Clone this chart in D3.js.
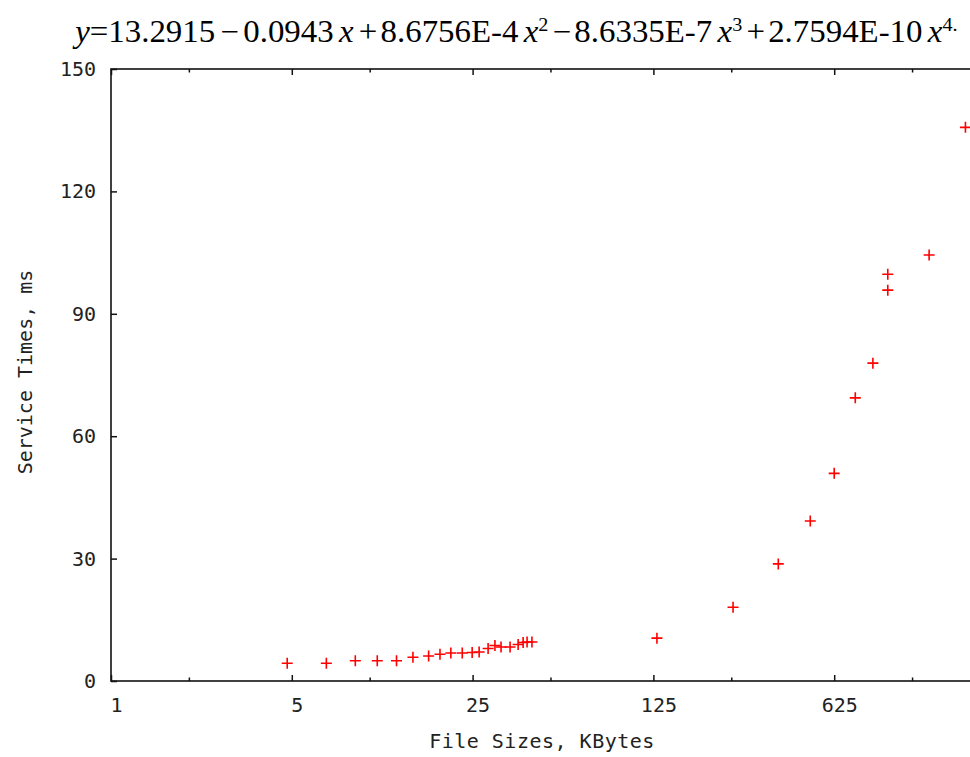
<!DOCTYPE html>
<html><head><meta charset="utf-8">
<script src="https://cdn.jsdelivr.net/npm/d3@7"></script>
<style>body{margin:0;background:#fff;overflow:hidden}</style>
</head><body><svg id="c" width="970" height="757"></svg>
<script>
// File sizes (KBytes) and measured service times (ms)
const fileSizes = [4.8, 6.8, 8.8, 10.7, 12.7, 14.7, 16.9, 18.7, 20.6, 22.8, 24.9, 26.5, 28.7, 30.5, 32.2, 34.9, 37.5, 39.2, 40.6, 42.4, 129, 254, 380, 505, 625, 754, 882, 1007, 1007, 1455, 2010];
const serviceTimes = [4.34, 4.34, 4.98, 4.98, 4.98, 5.81, 6.13, 6.54, 6.86, 6.86, 6.99, 7.11, 7.97, 8.70, 8.33, 8.33, 8.95, 9.44, 9.56, 9.56, 10.5, 18.06, 28.7, 39.2, 50.9, 69.4, 77.9, 99.7, 95.8, 104.4, 135.7];
const xTicks = [1, 5, 25, 125, 625];
const xMinorTicks = [2, 10, 50, 250, 1250];
const yTicks = [0, 30, 60, 90, 120, 150];
const xTitle = "File Sizes, KBytes";
const yTitle = "Service Times, ms";
const titleParts = [
  {t: "y", it: true}, {t: "=13.2915"}, {t: "\u2212", dx: 5}, {t: "0.0943", dx: 4},
  {t: "x", it: true, dx: 5}, {t: "+", dx: 5}, {t: "8.6756E-4", dx: 3},
  {t: "x", it: true, dx: 5}, {t: "2", sup: true}, {t: "\u2212", dx: 4}, {t: "8.6335E-7", dx: 3},
  {t: "x", it: true, dx: 5}, {t: "3", sup: true}, {t: "+", dx: 4}, {t: "2.7594E-10", dx: 3},
  {t: "x", it: true, dx: 5}, {t: "4.", sup: true}
];

const svg = d3.select("#c");
const L = 111, T = 69, B = 681, R = 111 + 5 * 180.8;
const x = d3.scaleLog().base(5).domain([1, 3125]).range([L, R]);
const y = d3.scaleLinear().domain([0, 150]).range([B, T]);

const mono = "'DejaVu Sans Mono', 'Liberation Mono', monospace";
const axisColor = "#111";
const FS = 20;

// frame
svg.append("rect").attr("x", L).attr("y", T).attr("width", R - L).attr("height", B - T)
  .attr("fill", "none").attr("stroke", axisColor).attr("stroke-width", 1.6);

function styleAxis(g) {
  g.select(".domain").remove();
  g.selectAll("line").attr("stroke", axisColor).attr("stroke-width", 1.5);
  g.selectAll("text").attr("font-family", mono).attr("font-size", FS).attr("fill", "#222");
}

// bottom major
svg.append("g").attr("transform", `translate(0,${B})`)
  .call(d3.axisBottom(x).tickValues(xTicks).tickFormat(d3.format("d")).tickSize(-6).tickPadding(16.8))
  .call(styleAxis)
  .call(g => g.selectAll("text").attr("dx", 5));
// bottom minor
svg.append("g").attr("transform", `translate(0,${B})`)
  .call(d3.axisBottom(x).tickValues(xMinorTicks).tickFormat("").tickSize(-3.5))
  .call(styleAxis);
// top major + minor
svg.append("g").attr("transform", `translate(0,${T})`)
  .call(d3.axisTop(x).tickValues(xTicks).tickFormat("").tickSize(-6))
  .call(styleAxis);
svg.append("g").attr("transform", `translate(0,${T})`)
  .call(d3.axisTop(x).tickValues(xMinorTicks).tickFormat("").tickSize(-3.5))
  .call(styleAxis);
// left
svg.append("g").attr("transform", `translate(${L},0)`)
  .call(d3.axisLeft(y).tickValues(yTicks).tickFormat(d3.format("d")).tickSize(-6).tickPadding(15))
  .call(styleAxis);

// axis titles
svg.append("text").attr("x", 542).attr("y", 748).attr("text-anchor", "middle")
  .attr("font-family", mono).attr("font-size", FS).attr("letter-spacing", 0.5).attr("fill", "#222").text(xTitle);
svg.append("text").attr("transform", "translate(32,372) rotate(-90)").attr("text-anchor", "middle")
  .attr("font-family", mono).attr("font-size", FS).attr("fill", "#222").text(yTitle);

// points
const pts = fileSizes.map((d, i) => ({fs: d, st: serviceTimes[i]}));
svg.append("g").selectAll("path").data(pts).join("path")
  .attr("transform", d => `translate(${x(d.fs)},${y(d.st)})`)
  .attr("d", "M-5.5,0H5.5M0,-5.5V5.5")
  .attr("stroke", "#ff0000").attr("stroke-width", 1.6).attr("fill", "none");

// title formula
const title = svg.append("text").attr("x", 0).attr("y", 0)
  .attr("font-family", "'Liberation Serif', 'Times New Roman', serif").attr("font-size", 31).attr("fill", "#000");
let raised = false;
titleParts.forEach(p => {
  const ts = title.append("tspan").text(p.t);
  if (p.it) ts.attr("font-style", "italic");
  let dy = 0;
  if (p.sup && !raised) { dy = -11; raised = true; }
  else if (!p.sup && raised) { dy = 11; raised = false; }
  if (dy) ts.attr("dy", dy);
  if (p.dx) ts.attr("dx", p.dx);
  if (p.sup) ts.attr("font-size", 19);
});
const bb = title.node().getBBox();
const sx = (958 - 72) / bb.width;
title.attr("transform", `translate(${72 - bb.x * sx},42) scale(${sx},1)`);
</script></body></html>
